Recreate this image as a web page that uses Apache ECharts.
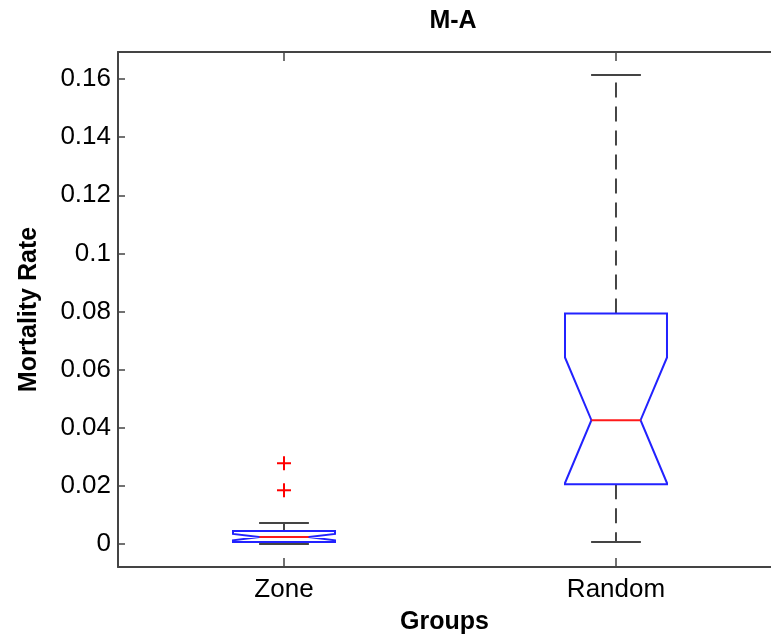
<!DOCTYPE html>
<html>
<head>
<meta charset="utf-8">
<script src="https://cdn.jsdelivr.net/npm/echarts@6/dist/echarts.min.js"></script>
<style>html,body{margin:0;padding:0;background:#fff}#c{width:771px;height:640px}</style>
</head>
<body>
<div id="c"></div>
<script>
// ---- data ----
const categories = ['Zone', 'Random'];
const q1 =        [0.0007, 0.0206];
const notchLo =   [0.0013, 0.0210];
const median =    [0.0024, 0.0426];
const notchHi =   [0.0035, 0.0642];
const q3 =        [0.0045, 0.0793];
const whiskerLo = [0.0000, 0.0007];
const whiskerHi = [0.0072, 0.1614];
const outliers = [[1, 0.0278], [1, 0.0185]]; // [group position, value]
const yTicks = [0, 0.02, 0.04, 0.06, 0.08, 0.1, 0.12, 0.14, 0.16];
const xTicks = [1, 2];

const boxData = categories.map((c, i) => [i + 1, whiskerLo[i], q1[i], notchLo[i], median[i], notchHi[i], q3[i], whiskerHi[i]]);

const FONT = 'Liberation Sans';
const chart = echarts.init(document.getElementById('c'), null, {renderer: 'canvas'});

function renderBox(params, api) {
  const x = api.value(0);
  const wl = api.value(1), b1 = api.value(2), nl = api.value(3), md = api.value(4), nh = api.value(5), b3 = api.value(6), wh = api.value(7);
  const hw = 0.1536, nw = 0.074, cw = 0.075;
  const P = (dx, y) => api.coord([x + dx, y]);
  const poly = [P(-hw, b1), P(-hw, nl), P(-nw, md), P(-hw, nh), P(-hw, b3), P(hw, b3), P(hw, nh), P(nw, md), P(hw, nl), P(hw, b1)];
  const dashStyle = {stroke: '#333', lineWidth: 1.8, lineDash: [15, 9]};
  const capStyle = {stroke: '#444', lineWidth: 2};
  const children = [
    {type: 'line', shape: {x1: P(0, b3)[0], y1: P(0, b3)[1], x2: P(0, wh)[0], y2: P(0, wh)[1]}, style: dashStyle},
    {type: 'line', shape: {x1: P(0, b1)[0], y1: P(0, b1)[1], x2: P(0, wl)[0], y2: P(0, wl)[1]}, style: dashStyle},
    {type: 'line', shape: {x1: P(-cw, wh)[0], y1: P(-cw, wh)[1], x2: P(cw, wh)[0], y2: P(cw, wh)[1]}, style: capStyle},
    {type: 'line', shape: {x1: P(-cw, wl)[0], y1: P(-cw, wl)[1], x2: P(cw, wl)[0], y2: P(cw, wl)[1]}, style: capStyle},
    {type: 'polygon', shape: {points: poly}, style: {fill: '#fff', stroke: '#2222ff', lineWidth: 2}},
    {type: 'line', shape: {x1: P(-nw, md)[0], y1: P(-nw, md)[1], x2: P(nw, md)[0], y2: P(nw, md)[1]}, style: {stroke: '#ff1a1a', lineWidth: 2}}
  ];
  return {type: 'group', children};
}

function renderPlus(params, api) {
  const p = api.coord([api.value(0), api.value(1)]);
  const s = 7;
  return {type: 'group', children: [
    {type: 'line', shape: {x1: p[0] - s, y1: p[1], x2: p[0] + s, y2: p[1]}, style: {stroke: '#ff0000', lineWidth: 2}},
    {type: 'line', shape: {x1: p[0], y1: p[1] - s, x2: p[0], y2: p[1] + s}, style: {stroke: '#ff0000', lineWidth: 2}}
  ]};
}

const axisLineStyle = {color: '#444', width: 2};
const tickStyle = {color: '#444', width: 1.5};

chart.setOption({
  animation: false,
  backgroundColor: '#fff',
  title: {
    text: 'M-A', left: 448, top: 4, textAlign: 'center',
    textStyle: {fontFamily: FONT, fontSize: 25, fontWeight: 'bold', color: '#000'}
  },
  grid: {left: 118, right: 0, top: 52, bottom: 72, containLabel: false},
  xAxis: [{
    type: 'value', min: 0.5, max: 2.4669, position: 'bottom',
    name: 'Groups', nameLocation: 'middle', nameGap: 43,
    nameTextStyle: {fontFamily: FONT, fontSize: 25, fontWeight: 'bold', color: '#000'},
    axisLine: {show: true, onZero: false, lineStyle: axisLineStyle},
    axisTick: {show: true, inside: true, length: 9, customValues: xTicks, lineStyle: tickStyle},
    axisLabel: {customValues: xTicks, formatter: v => categories[Math.round(v) - 1] || '', margin: 10,
      fontFamily: FONT, fontSize: 26, color: '#000'},
    splitLine: {show: false}
  }, {
    type: 'value', min: 0.5, max: 2.4669, position: 'top',
    axisLine: {show: true, onZero: false, lineStyle: axisLineStyle},
    axisTick: {show: true, inside: true, length: 9, customValues: xTicks, lineStyle: tickStyle},
    axisLabel: {show: false},
    splitLine: {show: false}
  }],
  yAxis: {
    type: 'value', min: -0.0079, max: 0.1693,
    name: 'Mortality Rate', nameLocation: 'middle', nameRotate: 90, nameGap: 76,
    nameTextStyle: {fontFamily: FONT, fontSize: 25, fontWeight: 'bold', color: '#000'},
    axisLine: {show: true, onZero: false, lineStyle: axisLineStyle},
    axisTick: {show: true, inside: true, length: 7, customValues: yTicks, lineStyle: tickStyle},
    axisLabel: {customValues: yTicks, formatter: v => String(+v.toFixed(4)), margin: 7,
      fontFamily: FONT, fontSize: 26, color: '#000'},
    splitLine: {show: false}
  },
  series: [{
    type: 'custom', xAxisIndex: 0, renderItem: renderBox, data: boxData, clip: false,
    encode: {x: 0, y: [1, 2, 3, 4, 5, 6, 7]}
  }, {
    type: 'custom', xAxisIndex: 0, renderItem: renderPlus, data: outliers,
    encode: {x: 0, y: 1}
  }]
});
</script>
</body>
</html>
